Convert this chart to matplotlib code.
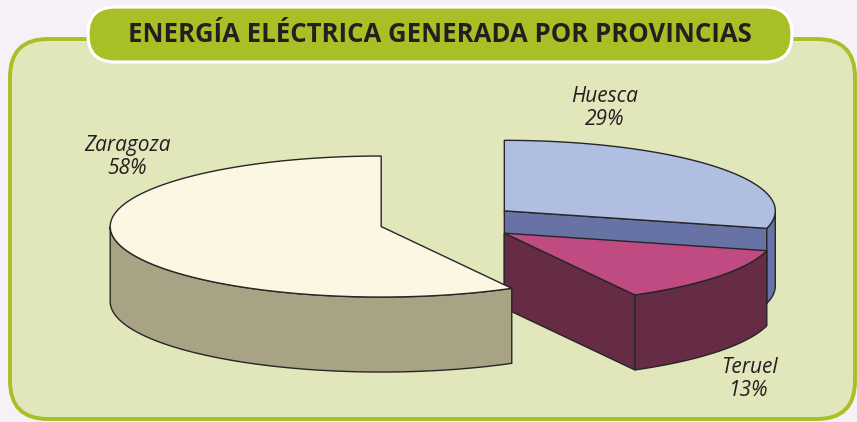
import numpy as np
import matplotlib.pyplot as plt
from matplotlib.patches import Polygon, FancyBboxPatch

# datos (en el orden de las agujas del reloj desde arriba)
provincias = ['Huesca', 'Teruel', 'Zaragoza']
porcentajes = [29, 13, 58]

colores_sup = ['#B0BFE1', '#C04A82', '#FBF7E2']
colores_lado = ['#6873A5', '#662B45', '#A7A384']
pos_etiquetas = [(605, 108), (749, 379), (127, 157)]

titulo = 'ENERGÍA ELÉCTRICA GENERADA POR PROVINCIAS'

fig = plt.figure(figsize=(8.57, 4.22), dpi=100, facecolor='#F6F1F6')
ax = fig.add_axes([0, 0, 1, 1])
ax.set_xlim(0, 857)
ax.set_ylim(422, 0)
ax.axis('off')

# marco verde y pestaña del titulo
ax.add_patch(FancyBboxPatch((10, 39), 845, 380, boxstyle='round,pad=0,rounding_size=38',
                            facecolor='#E1E7BB', edgecolor='#A9BF26', lw=2.8, zorder=1))
ax.add_patch(FancyBboxPatch((88, 7), 704, 55, boxstyle='round,pad=0,rounding_size=27',
                            facecolor='#A9BF26', edgecolor='white', lw=2.3, zorder=2))
ax.text(440, 35, titulo, ha='center', va='center', fontsize=18.5, fontweight='bold',
        family=['Open Sans', 'DejaVu Sans'], color='#231F20', zorder=3)

# tarta 3D
cx, cy = 449, 222
a, b, h = 271, 70.5, 75
sep = 70
borde = dict(edgecolor='#262626', lw=1.0)


def punto(ox, oy, t, z=0.0):
    t = np.radians(t)
    return np.column_stack([ox + a * np.cos(t), oy - b * np.sin(t) + z])


angulo = 90.0
for i, v in enumerate(porcentajes):
    t2 = angulo
    t1 = angulo - 360 * v / 100
    angulo = t1
    m = np.radians((t1 + t2) / 2)
    ox = cx + sep * np.cos(m)
    oy = cy - sep * (b / a) * np.sin(m)
    zb = 10 * (i + 1)

    # caras radiales visibles
    for t, n in ((t1, t1 - 90), (t2, t2 + 90)):
        if np.sin(np.radians(n)) < -1e-6:
            e = punto(ox, oy, [t])[0]
            cara = [(ox, oy), e, (e[0], e[1] + h), (ox, oy + h)]
            ax.add_patch(Polygon(cara, closed=True, facecolor=colores_lado[i], zorder=zb, **borde))

    # lateral exterior (parte delantera)
    for k in (-1, 0, 1):
        lo = max(t1, -180 + 360 * k)
        hi = min(t2, 360 * k)
        if hi > lo:
            ts = np.linspace(lo, hi, 120)
            arr = punto(ox, oy, ts)
            aba = punto(ox, oy, ts, h)[::-1]
            ax.add_patch(Polygon(np.vstack([arr, aba]), closed=True,
                                 facecolor=colores_lado[i], zorder=zb + 1, **borde))

    # cara superior
    ts = np.linspace(t1, t2, 240)
    sup = np.vstack([[ox, oy], punto(ox, oy, ts)])
    ax.add_patch(Polygon(sup, closed=True, facecolor=colores_sup[i], zorder=zb + 2, **borde))

    x, y = pos_etiquetas[i]
    ax.text(x, y, f'{provincias[i]}\n{v}%', ha='center', va='center', fontsize=15,
            style='italic', family=['Open Sans', 'DejaVu Sans'], color='#231F20',
            linespacing=1.1, zorder=50)

fig.savefig('out.png', dpi=100, facecolor=fig.get_facecolor())
